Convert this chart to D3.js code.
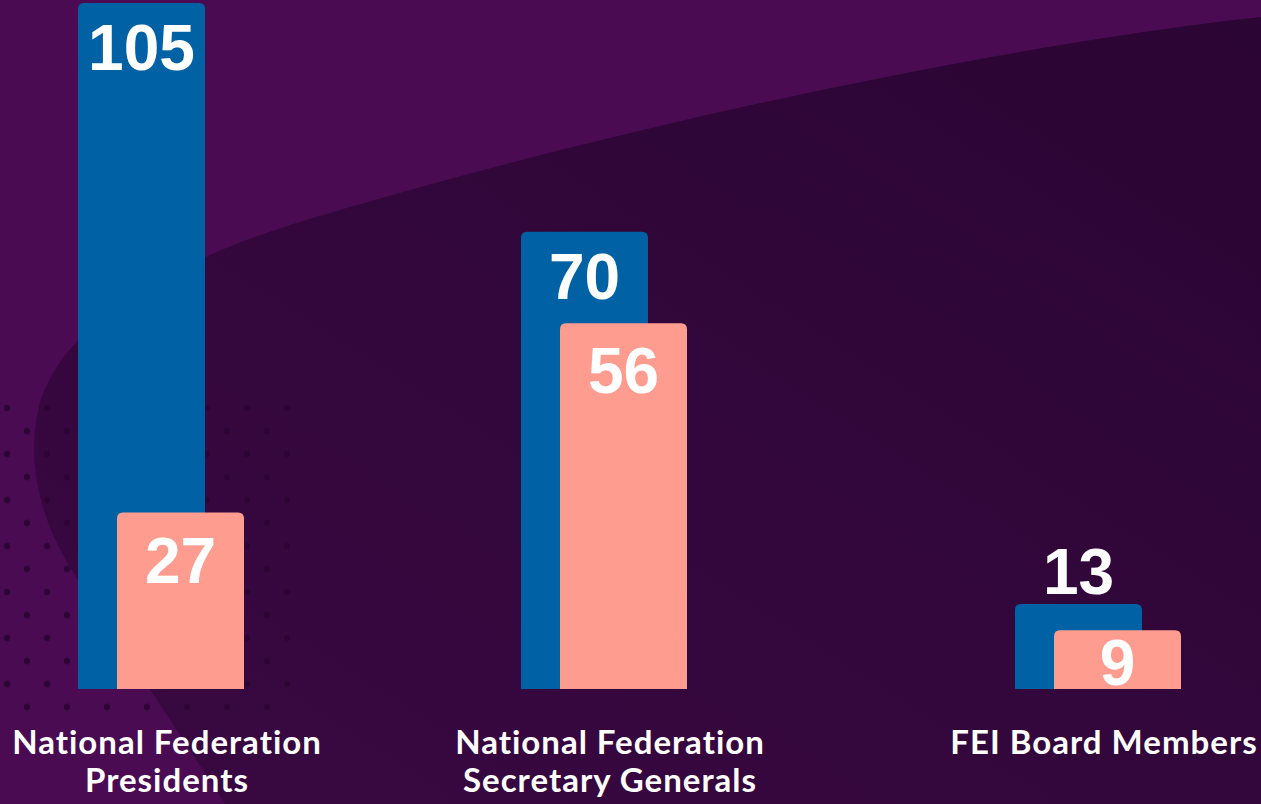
<!DOCTYPE html>
<html>
<head>
<meta charset="utf-8">
<script src="https://cdn.jsdelivr.net/npm/d3@7"></script>
<style>
    html, body { margin: 0; padding: 0; background: #4a0b53; }
    svg { display: block; }
</style>
</head>
<body>
<svg id="chart" width="1261" height="804"></svg>
<script>
// chart data
const categories = ['National Federation Presidents', 'National Federation Secretary Generals', 'FEI Board Members'];
const categoryLines = [['National Federation', 'Presidents'], ['National Federation', 'Secretary Generals'], ['FEI Board Members']];
const blueValues = [105, 70, 13];
const pinkValues = [27, 56, 9];

const width = 1261;
const height = 804;
const barWidth = 127;
const pinkShift = 39;
const colors = {blue: '#0062a5', pink: '#fe9c8f', text: '#ffffff'};

const svg = d3.select('#chart');
const defs = svg.append('defs');

// background: light purple with a darker sweeping shape
let grad = defs.append('linearGradient')
    .attr('id', 'darkGrad')
    .attr('x1', '100%').attr('y1', '0%')
    .attr('x2', '0%').attr('y2', '100%');
grad.append('stop').attr('offset', '0%').attr('stop-color', '#2b0533');
grad.append('stop').attr('offset', '55%').attr('stop-color', '#33073c');
grad.append('stop').attr('offset', '100%').attr('stop-color', '#3a0842');

svg.append('rect')
    .attr('width', width)
    .attr('height', height)
    .attr('fill', '#4a0b53');

svg.append('path')
    .attr('d', 'M1261,17 C1000,45 600,130 290,225 C180,260 60,320 38,410 ' +
        'C25,470 45,530 75,575 L225,804 L1261,804 Z')
    .attr('fill', 'url(#darkGrad)');

// dotted decoration bottom left
let dots = defs.append('pattern')
    .attr('id', 'dots')
    .attr('patternUnits', 'userSpaceOnUse')
    .attr('x', -3).attr('y', 396.5)
    .attr('width', 40).attr('height', 46);
dots.append('circle').attr('cx', 10).attr('cy', 11.5).attr('r', 3.2).attr('fill', '#2c0534');
dots.append('circle').attr('cx', 30).attr('cy', 34.5).attr('r', 3.2).attr('fill', '#2c0534');

svg.append('rect')
    .attr('x', 0).attr('y', 398)
    .attr('width', 300).attr('height', 318)
    .attr('fill', 'url(#dots)');

// scales
const x = d3.scaleOrdinal()
    .domain(categories)
    .range([78, 521, 1015]);

const y = d3.scaleLinear()
    .domain([0, 105])
    .range([689, 3]);

/**
 * Rect path with rounded top corners only
 */
function topRounded(x0, y0, w, h, r) {
    return 'M' + x0 + ',' + (y0 + h) +
        'V' + (y0 + r) +
        'Q' + x0 + ',' + y0 + ' ' + (x0 + r) + ',' + y0 +
        'H' + (x0 + w - r) +
        'Q' + (x0 + w) + ',' + y0 + ' ' + (x0 + w) + ',' + (y0 + r) +
        'V' + (y0 + h) + 'Z';
}

const rows = categories.map((c, i) => ({
    cat: c,
    lines: categoryLines[i],
    blue: blueValues[i],
    pink: pinkValues[i]
}));

const groups = svg.selectAll('g.group')
    .data(rows)
    .enter().append('g')
    .attr('class', 'group');

groups.append('path')
    .attr('d', d => topRounded(x(d.cat), y(d.blue), barWidth, y(0) - y(d.blue), 6))
    .attr('fill', colors.blue);

groups.append('path')
    .attr('d', d => topRounded(x(d.cat) + pinkShift, y(d.pink), barWidth, y(0) - y(d.pink), 6))
    .attr('fill', colors.pink);

const numberStyle = 'font-family: "Liberation Sans", Arial, sans-serif; font-weight: bold; font-size: 64px;';

// blue value, moved above the bar when the pink bar would hide it
groups.append('text')
    .attr('x', d => x(d.cat) + barWidth / 2)
    .attr('y', d => {
        let inside = y(d.blue) + 67;
        return inside > y(d.pink) ? y(d.blue) - 10 : inside;
    })
    .attr('text-anchor', 'middle')
    .attr('fill', colors.text)
    .attr('style', numberStyle)
    .text(d => d.blue);

groups.append('text')
    .attr('x', d => x(d.cat) + pinkShift + barWidth / 2)
    .attr('y', d => Math.min(y(d.pink) + 70, y(0) - 4))
    .attr('text-anchor', 'middle')
    .attr('fill', colors.text)
    .attr('style', numberStyle)
    .text(d => d.pink);

// category labels
let labels = groups.append('text')
    .attr('text-anchor', 'middle')
    .attr('fill', colors.text)
    .attr('style', 'font-family: Lato, "Open Sans", sans-serif; font-weight: bold; font-size: 33px;' +
        ' letter-spacing: 1px; font-variant-ligatures: none;');

labels.selectAll('tspan')
    .data(d => d.lines.map(line => ({line: line, cx: x(d.cat) + (barWidth + pinkShift) / 2 + 6})))
    .enter().append('tspan')
    .attr('x', d => d.cx)
    .attr('y', (d, i) => 754 + i * 38)
    .text(d => d.line);
</script>
</body>
</html>
